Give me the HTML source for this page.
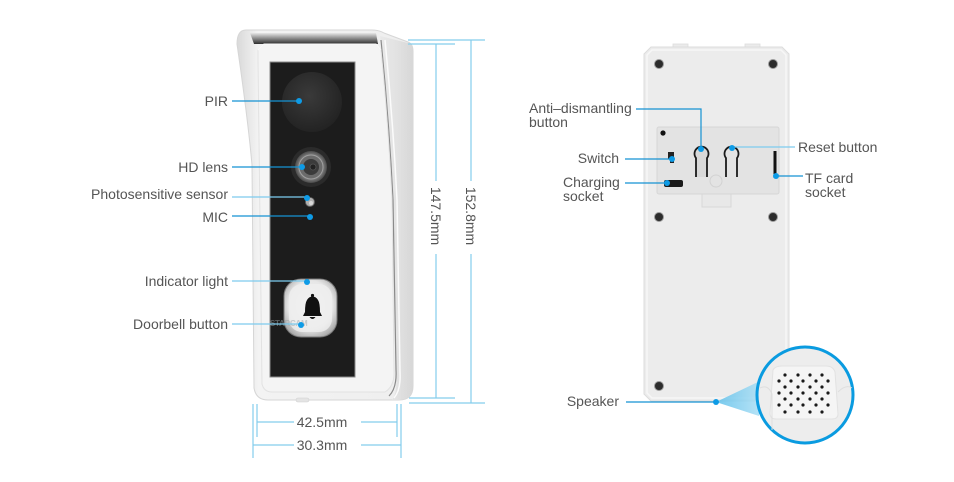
<!DOCTYPE html>
<html><head><meta charset="utf-8"><style>
html,body{margin:0;padding:0;background:#fff;}
svg{display:block;}
text{font-family:"Liberation Sans",Arial,sans-serif;}
</style></head><body>
<svg width="954" height="482" viewBox="0 0 954 482" xmlns="http://www.w3.org/2000/svg">
<defs>
<linearGradient id="shell" x1="0" y1="0" x2="1" y2="0">
<stop offset="0" stop-color="#d9d9d9"/><stop offset="0.12" stop-color="#f3f3f3"/><stop offset="1" stop-color="#eeeeee"/>
</linearGradient>
<linearGradient id="side" x1="0" y1="0" x2="1" y2="0">
<stop offset="0" stop-color="#e9e9e9"/><stop offset="0.5" stop-color="#e2e2e2"/><stop offset="1" stop-color="#d7d7d7"/>
</linearGradient>
<linearGradient id="visor" x1="0" y1="0" x2="0" y2="1">
<stop offset="0" stop-color="#e6e6e6"/><stop offset="0.5" stop-color="#8a8a8a"/><stop offset="1" stop-color="#2e2e2e"/>
</linearGradient>
<radialGradient id="pir" cx="0.45" cy="0.4" r="0.6">
<stop offset="0" stop-color="#3a3a3a"/><stop offset="1" stop-color="#232323"/>
</radialGradient>
<radialGradient id="btn" cx="0.5" cy="0.45" r="0.6">
<stop offset="0" stop-color="#fafafa"/><stop offset="0.7" stop-color="#e6e6e6"/><stop offset="1" stop-color="#a8a8a8"/>
</radialGradient>
<radialGradient id="lens" cx="0.5" cy="0.5" r="0.5">
<stop offset="0" stop-color="#6a6a6a"/><stop offset="0.7" stop-color="#8c8c8c"/><stop offset="1" stop-color="#4a4a4a"/>
</radialGradient>
<linearGradient id="cone" x1="0" y1="0" x2="1" y2="0">
<stop offset="0" stop-color="#5fc0ea"/><stop offset="1" stop-color="#a9def5"/>
</linearGradient>
</defs>

<!-- ===== FRONT DEVICE ===== -->
<path d="M246,30 L372,30 Q379,30 384,33 L408,42 Q413,44 413,51 L413,386 Q413,400 399,400 L268,400 Q256,400 254,388 L252,165 Q248,120 237,44 Q237,30 246,30 Z" fill="url(#shell)" stroke="#d6d6d6" stroke-width="1"/>
<path d="M380,36 L408,43 Q413,45 413,51 L413,386 Q413,399 399,400 L392,400 Q398,392 396,370 L393,200 Q389,120 380,36 Z" fill="url(#side)"/>
<path d="M381,40 Q389,120 393,200 L396,370 Q397,388 389,396" fill="none" stroke="#8a8a8a" stroke-width="1.2"/>
<path d="M385,40 Q393,120 397,200 L400,372 Q401,390 394,398" fill="none" stroke="#fbfbfb" stroke-width="1.5"/>
<path d="M250,33 L376,33 L378,44 L254,44 Z" fill="url(#visor)"/>
<path d="M264,44 L376,44 L381,50 Q388,120 392,200 L394,370 Q395,386 385,392 L272,392 Q264,392 262,384 L258,60 L258,50 Z" fill="#f4f4f4" stroke="#e2e2e2" stroke-width="1"/>
<path d="M258,50 L264,44 L376,44 L381,50" fill="none" stroke="#fafafa" stroke-width="1"/>
<rect x="270" y="62" width="85" height="315" fill="#1c1c1c" stroke="#8a8a8a" stroke-width="1"/>
<circle cx="312" cy="102" r="30" fill="url(#pir)"/>
<circle cx="311" cy="167" r="20" fill="#2b2b2b"/>
<circle cx="311" cy="167" r="16" fill="url(#lens)"/>
<circle cx="311" cy="167" r="12" fill="#6b6b6b" stroke="#a0a0a0" stroke-width="1"/>
<circle cx="311" cy="167" r="8" fill="#3b3b3b"/>
<circle cx="313" cy="167" r="3" fill="#222" stroke="#555" stroke-width="0.8"/>
<circle cx="310" cy="202" r="4.5" fill="#b0b0b0" stroke="#666" stroke-width="0.8"/>
<circle cx="311" cy="203" r="2" fill="#d8d8d8"/>
<rect x="284" y="279" width="53" height="58" rx="17" fill="url(#btn)" stroke="#777" stroke-width="1"/>
<rect x="289" y="284" width="43" height="48" rx="13" fill="#efefef" opacity="0.8"/>
<path d="M303,316 L305,312 Q305,303 307,300 Q309,296.5 312.5,296.5 Q316,296.5 318,300 Q320,303 320,312 L322,316 Z" fill="#111"/>
<circle cx="312.5" cy="295.5" r="1.6" fill="#111"/>
<path d="M309.5,317 Q312.5,321 315.5,317 Z" fill="#111"/>
<text x="270" y="326" font-size="8" font-weight="bold" fill="#9aa3a8" opacity="0.5" letter-spacing="-0.3">STARCAM</text>
<rect x="296" y="398" width="13" height="4" rx="2" fill="#e4e4e4" stroke="#d0d0d0" stroke-width="0.6"/>

<g font-size="14" fill="#555" text-anchor="end">
<text x="228" y="106">PIR</text>
<text x="228" y="172">HD lens</text>
<text x="228" y="199">Photosensitive sensor</text>
<text x="228" y="222">MIC</text>
<text x="228" y="286">Indicator light</text>
<text x="228" y="329">Doorbell button</text>
</g>
<g stroke-width="1.2" fill="none">
<line x1="232" y1="101" x2="299" y2="101" stroke="#1592d3"/>
<line x1="232" y1="167" x2="302" y2="167" stroke="#1592d3"/>
<line x1="232" y1="197" x2="307" y2="197" stroke="#7dcbee"/>
<line x1="232" y1="216" x2="310" y2="216" stroke="#1592d3"/>
<line x1="232" y1="281" x2="307" y2="281" stroke="#7dcbee"/>
<line x1="232" y1="324" x2="301" y2="324" stroke="#7dcbee"/>
</g>
<g fill="#0e9be6">
<circle cx="299" cy="101" r="3"/>
<circle cx="302" cy="167" r="3"/>
<circle cx="307" cy="198" r="3"/>
<circle cx="310" cy="217" r="3"/>
<circle cx="307" cy="282" r="3"/>
<circle cx="301" cy="325" r="3"/>
</g>

<g stroke="#84cdec" stroke-width="1.2" fill="none">
<line x1="408" y1="40" x2="485" y2="40"/>
<line x1="408" y1="44" x2="455" y2="44"/>
<line x1="409" y1="398" x2="455" y2="398"/>
<line x1="409" y1="403" x2="485" y2="403"/>
<line x1="436" y1="44" x2="436" y2="181"/>
<line x1="436" y1="254" x2="436" y2="398"/>
<line x1="471" y1="40" x2="471" y2="181"/>
<line x1="471" y1="254" x2="471" y2="403"/>
<line x1="253" y1="404" x2="253" y2="458"/>
<line x1="257" y1="404" x2="257" y2="437"/>
<line x1="397" y1="404" x2="397" y2="437"/>
<line x1="401" y1="404" x2="401" y2="458"/>
<line x1="257" y1="422" x2="294" y2="422"/>
<line x1="361" y1="422" x2="397" y2="422"/>
<line x1="253" y1="445" x2="294" y2="445"/>
<line x1="361" y1="445" x2="401" y2="445"/>
</g>
<g font-size="14" fill="#555">
<text x="322" y="427" text-anchor="middle">42.5mm</text>
<text x="322" y="450" text-anchor="middle">30.3mm</text>
<text transform="translate(431,216) rotate(90)" text-anchor="middle">147.5mm</text>
<text transform="translate(466,216) rotate(90)" text-anchor="middle">152.8mm</text>
</g>

<!-- ===== BACK PANEL ===== -->
<rect x="673" y="44" width="15" height="5" fill="#ebebeb" stroke="#dcdcdc" stroke-width="0.8"/>
<rect x="745" y="44" width="15" height="5" fill="#ebebeb" stroke="#dcdcdc" stroke-width="0.8"/>
<path d="M651,47 L782,47 L789,54 L789,394 L782,401 L651,401 L644,394 L644,54 Z" fill="#ececec" stroke="#dcdcdc" stroke-width="1"/>
<path d="M652,50 L781,50 L786,55 L786,393 L781,398 L652,398 L647,393 L647,55 Z" fill="none" stroke="#f7f7f7" stroke-width="1.5"/>
<rect x="702" y="192" width="29" height="15" fill="#e8e8e8" stroke="#d8d8d8" stroke-width="1"/>
<rect x="657" y="127" width="122" height="67" rx="2" fill="#e3e3e3" stroke="#d6d6d6" stroke-width="1"/>
<circle cx="716" cy="181" r="6" fill="none" stroke="#d2d2d2" stroke-width="1"/>
<circle cx="663" cy="133" r="2.6" fill="#111"/>
<path d="M668,152 L674,152 L674,163 L670,163 L670,159 L668,159 Z" fill="#222"/>
<rect x="664" y="180" width="19" height="7" rx="2" fill="#1a1a1a"/>
<path d="M696,177 L696,158 A7,7 0 1,1 707,158 L707,177" fill="#d8d8d8" stroke="#1a1a1a" stroke-width="1.8"/>
<path d="M726,177 L726,158 A7,7 0 1,1 737,158 L737,177" fill="#e3e3e3" stroke="#1a1a1a" stroke-width="1.8"/>
<rect x="773.5" y="151" width="3" height="27" fill="#111"/>
<g fill="#2c2c2c" stroke="#9a9a9a" stroke-width="1">
<circle cx="659" cy="64" r="4.5"/>
<circle cx="773" cy="64" r="4.5"/>
<circle cx="659" cy="217" r="4.5"/>
<circle cx="773" cy="217" r="4.5"/>
<circle cx="659" cy="386" r="4.5"/>
</g>
<polygon points="716,402 760,381 759,416" fill="url(#cone)" opacity="0.85"/>
<circle cx="805" cy="395" r="48" fill="#ededed" stroke="#0a9be0" stroke-width="3"/>
<path d="M773,370 Q775,366 782,366 L826,366 Q833,366 835,372 L838,414 Q838,419 832,419 L776,419 Q770,419 770,413 Z" fill="#f5f5f5" stroke="#e2e2e2" stroke-width="1"/>
<path d="M760,388 Q768,384 772,394 L772,430" fill="none" stroke="#dedede" stroke-width="1"/>
<path d="M838,392 Q846,384 852,388" fill="none" stroke="#dedede" stroke-width="1"/>
<g fill="#1a1a1a">
<circle cx="785" cy="375" r="1.6"/><circle cx="798" cy="375" r="1.6"/><circle cx="810" cy="375" r="1.6"/><circle cx="822" cy="375" r="1.6"/>
<circle cx="779" cy="381" r="1.6"/><circle cx="791" cy="381" r="1.6"/><circle cx="803" cy="381" r="1.6"/><circle cx="816" cy="381" r="1.6"/><circle cx="828" cy="381" r="1.6"/>
<circle cx="785" cy="387" r="1.6"/><circle cx="798" cy="387" r="1.6"/><circle cx="810" cy="387" r="1.6"/><circle cx="822" cy="387" r="1.6"/>
<circle cx="779" cy="393" r="1.6"/><circle cx="791" cy="393" r="1.6"/><circle cx="803" cy="393" r="1.6"/><circle cx="816" cy="393" r="1.6"/><circle cx="828" cy="393" r="1.6"/>
<circle cx="785" cy="399" r="1.6"/><circle cx="798" cy="399" r="1.6"/><circle cx="810" cy="399" r="1.6"/><circle cx="822" cy="399" r="1.6"/>
<circle cx="779" cy="405" r="1.6"/><circle cx="791" cy="405" r="1.6"/><circle cx="803" cy="405" r="1.6"/><circle cx="816" cy="405" r="1.6"/><circle cx="828" cy="405" r="1.6"/>
<circle cx="785" cy="412" r="1.6"/><circle cx="798" cy="412" r="1.6"/><circle cx="810" cy="412" r="1.6"/><circle cx="822" cy="412" r="1.6"/>
</g>

<g font-size="14" fill="#555">
<text x="529" y="113">Anti–dismantling</text>
<text x="529" y="127">button</text>
<text x="619" y="163" text-anchor="end">Switch</text>
<text x="563" y="187">Charging</text>
<text x="563" y="201">socket</text>
<text x="798" y="152">Reset button</text>
<text x="805" y="183">TF card</text>
<text x="805" y="197">socket</text>
<text x="619" y="406" text-anchor="end">Speaker</text>
</g>
<g stroke-width="1.2" fill="none">
<polyline points="636,109 701,109 701,148" stroke="#1592d3"/>
<line x1="625" y1="159" x2="672" y2="159" stroke="#1592d3"/>
<line x1="625" y1="183" x2="667" y2="183" stroke="#1592d3"/>
<line x1="732" y1="147" x2="795" y2="147" stroke="#7dcbee"/>
<line x1="775" y1="176" x2="803" y2="176" stroke="#1592d3"/>
<line x1="626" y1="402" x2="716" y2="402" stroke="#1592d3"/>
</g>
<g fill="#0e9be6">
<circle cx="701" cy="149" r="3"/>
<circle cx="672" cy="159" r="3"/>
<circle cx="667" cy="183" r="3"/>
<circle cx="732" cy="148" r="3"/>
<circle cx="776" cy="176" r="3"/>
<circle cx="716" cy="402" r="3"/>
</g>
</svg>
</body></html>
